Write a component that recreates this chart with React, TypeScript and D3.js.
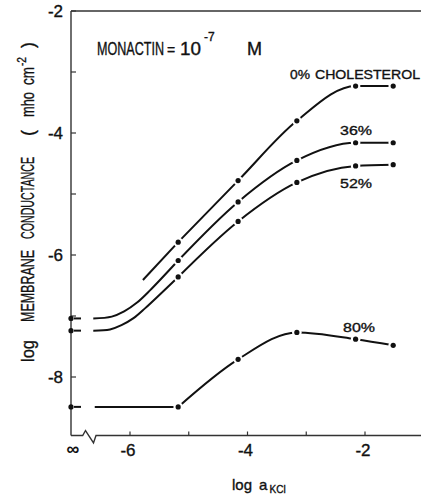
import React from 'react';
import * as d3 from 'd3';

// log KCl activity of the measured points
const LOG_A = [-5.18, -4.16, -3.16, -2.16, -1.52];
// log membrane conductance for each cholesterol content
const G_CHOL0 = [-5.79, -4.78, -3.8, -3.23, -3.23];
const G_CHOL36 = [-6.09, -5.13, -4.45, -4.16, -4.16];
const G_CHOL52 = [-6.36, -5.45, -4.81, -4.54, -4.52];
const G_CHOL80 = [-8.49, -7.71, -7.27, -7.38, -7.48];
// conductance with no KCl, plotted on the "∞" position of the axis
const G_NO_KCL = [null, -7.04, -7.24, -8.49];
// lower part of each fitted curve, before the first measured point
const LEAD_CHOL0 = [[-5.78, -6.41]];
const LEAD_CHOL36 = [[-6.625, -7.04], [-6.31, -7.01], [-6.1, -6.925], [-5.88, -6.78], [-5.66, -6.58]];
const LEAD_CHOL52 = [[-6.625, -7.24], [-6.34, -7.22], [-6.145, -7.15], [-5.94, -7.035], [-5.745, -6.875]];
const LEAD_CHOL80 = [[-6.6, -8.49]];
const SERIES_LABELS = ['0%', '36%', '52%', '80%'];

const Y_TICKS = [-2, -4, -6, -8];
const Y_MINOR = [-3, -5, -7];
const X_TICKS = [-6, -4, -2];
const X_MINOR = [-5, -3];

const FONT = '"Liberation Sans", Arial, Helvetica, sans-serif';
const INK = '#111';

export default function App() {
  const left = 71;
  const top = 11;
  const right = 421;
  const bottom = 435.5;

  const x = d3.scaleLinear().domain([-6, -2]).range([130, 365]);
  const y = d3.scaleLinear().domain([-8, -2]).range([377, 11]);

  const smooth = d3
    .line<number[]>()
    .x((d) => x(d[0]))
    .y((d) => y(d[1]))
    .curve(d3.curveCatmullRom.alpha(0.5));
  const monotone = d3
    .line<number[]>()
    .x((d) => x(d[0]))
    .y((d) => y(d[1]))
    .curve(d3.curveMonotoneX);

  const series = [
    { g: G_CHOL0, lead: LEAD_CHOL0, g0: G_NO_KCL[0] },
    { g: G_CHOL36, lead: LEAD_CHOL36, g0: G_NO_KCL[1] },
    { g: G_CHOL52, lead: LEAD_CHOL52, g0: G_NO_KCL[2] },
    { g: G_CHOL80, lead: LEAD_CHOL80, g0: G_NO_KCL[3] },
  ];

  const labelPos = [
    { x: 290, y: 79 },
    { x: 340, y: 135 },
    { x: 340, y: 188 },
    { x: 343, y: 332 },
  ];

  const textStroke = { stroke: INK, strokeWidth: 0.35 };

  return (
    <svg
      width={421}
      height={495}
      style={{ position: 'absolute', left: 0, top: 0, background: '#fff' }}
      fontFamily={FONT}
    >
      <rect x={0} y={0} width={421} height={495} fill="#fff" />

      {/* frame and axes */}
      <path d={`M${left},${top}H${right}`} stroke="#333" strokeWidth={1.4} fill="none" />
      <path d={`M${left},${top}V${bottom}`} stroke="#333" strokeWidth={1.4} fill="none" />
      <path
        d={`M${left},${bottom}H82.7L85.5,430.5L93.5,443L96,${bottom}H${right}`}
        stroke="#333"
        strokeWidth={1.4}
        fill="none"
      />

      {/* y ticks */}
      {[...Y_TICKS, ...Y_MINOR].map((v) => (
        <line key={`yt${v}`} x1={left} x2={left + 5} y1={y(v)} y2={y(v)} stroke="#333" strokeWidth={1.2} />
      ))}
      {Y_TICKS.map((v) => (
        <text key={`yl${v}`} x={63} y={y(v) + 6} textAnchor="end" fontSize={17} fill={INK} {...textStroke}>
          {`-${Math.abs(v)}`}
        </text>
      ))}

      {/* x ticks */}
      {[...X_TICKS, ...X_MINOR].map((v) => (
        <line key={`xt${v}`} x1={x(v)} x2={x(v)} y1={bottom} y2={bottom - 4} stroke="#333" strokeWidth={1.2} />
      ))}
      {X_TICKS.map((v) => (
        <text key={`xl${v}`} x={x(v) - 2} y={456} textAnchor="middle" fontSize={17} fill={INK} {...textStroke}>
          {`-${Math.abs(v)}`}
        </text>
      ))}
      <text x={73} y={455} textAnchor="middle" fontSize={18} fontWeight="bold" fill={INK}>
        ∞
      </text>

      {/* axis titles */}
      <g fill={INK} {...textStroke}>
        <text x={232} y={490} fontSize={15}>
          log
        </text>
        <text x={259} y={490} fontSize={15}>
          a
        </text>
        <text x={269.5} y={493} fontSize={10}>
          KCl
        </text>
      </g>

      <g transform="translate(34,362) rotate(-90)" fill={INK} {...textStroke}>
        <text x={0} y={0} fontSize={18} textLength={22} lengthAdjust="spacingAndGlyphs">
          log
        </text>
        <text x={40} y={0} fontSize={18} textLength={72} lengthAdjust="spacingAndGlyphs">
          MEMBRANE
        </text>
        <text x={123} y={0} fontSize={18} textLength={82} lengthAdjust="spacingAndGlyphs">
          CONDUCTANCE
        </text>
        <text x={226} y={0} fontSize={18}>
          (
        </text>
        <text x={245} y={0} fontSize={18} textLength={25} lengthAdjust="spacingAndGlyphs">
          mho
        </text>
        <text x={277} y={0} fontSize={18} textLength={18} lengthAdjust="spacingAndGlyphs">
          cm
        </text>
        <text x={296} y={-8} fontSize={12} textLength={9} lengthAdjust="spacingAndGlyphs">
          -2
        </text>
        <text x={314} y={0} fontSize={18}>
          )
        </text>
      </g>

      {/* title: condensed lettering */}
      <g fill={INK} {...textStroke}>
        <g transform="translate(97,55) scale(0.7,1)">
          <text x={0} y={0} fontSize={18}>
            MONACTIN
          </text>
        </g>
        <text x={167} y={55} fontSize={14}>
          =
        </text>
        <g transform="translate(180,55) scale(1.05,1)">
          <text x={0} y={0} fontSize={18}>
            10
          </text>
        </g>
        <text x={204} y={41} fontSize={12}>
          -7
        </text>
        <g transform="translate(247,55) scale(1,1)">
          <text x={0} y={0} fontSize={18}>
            M
          </text>
        </g>
      </g>

      {/* fitted curves: lead-in up to the first point, then through the measured points */}
      {series.map((s, i) => {
        const measured = LOG_A.map((a, j) => [a, s.g[j]]);
        const lead = [...s.lead, measured[0]];
        return (
          <g key={`c${i}`} fill="none" stroke={INK} strokeWidth={2}>
            <path d={smooth(lead) || ''} />
            <path d={monotone(measured) || ''} />
          </g>
        );
      })}

      {/* breaks in the curves around each point */}
      {series.map((s, i) =>
        LOG_A.map((a, j) => <circle key={`h${i}-${j}`} cx={x(a)} cy={y(s.g[j])} r={4.8} fill="#fff" />)
      )}

      {/* points at zero KCl with their short stubs */}
      {series.map((s, i) =>
        s.g0 == null ? null : (
          <g key={`z${i}`}>
            <line x1={left + 3} x2={left + 10} y1={y(s.g0)} y2={y(s.g0)} stroke={INK} strokeWidth={2} />
            <circle cx={left} cy={y(s.g0)} r={2.6} fill={INK} />
          </g>
        )
      )}

      {/* measured points */}
      {series.map((s, i) =>
        LOG_A.map((a, j) => <circle key={`p${i}-${j}`} cx={x(a)} cy={y(s.g[j])} r={2.6} fill={INK} />)
      )}

      {/* series labels */}
      <g fill={INK} {...textStroke}>
        <text x={labelPos[0].x} y={labelPos[0].y} fontSize={13} textLength={20} lengthAdjust="spacingAndGlyphs">
          {SERIES_LABELS[0]}
        </text>
        <text x={315} y={labelPos[0].y} fontSize={13} textLength={105} lengthAdjust="spacingAndGlyphs">
          CHOLESTEROL
        </text>
        {[1, 2, 3].map((i) => (
          <text
            key={`lab${i}`}
            x={labelPos[i].x}
            y={labelPos[i].y}
            fontSize={13}
            textLength={32}
            lengthAdjust="spacingAndGlyphs"
          >
            {SERIES_LABELS[i]}
          </text>
        ))}
      </g>
    </svg>
  );
}
